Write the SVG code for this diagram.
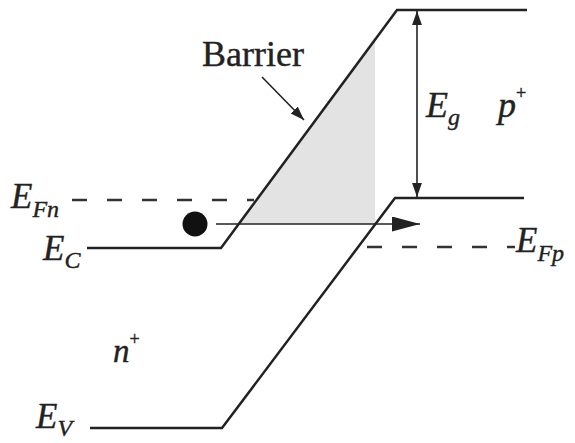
<svg xmlns="http://www.w3.org/2000/svg" width="575" height="443" viewBox="0 0 575 443">
<style>
.band{fill:none;stroke:#222;stroke-width:2.5;stroke-linejoin:miter}
.dash{fill:none;stroke:#333;stroke-width:2.5;stroke-dasharray:15 20}
.lbl{font-family:"Liberation Serif","Times New Roman",serif;fill:#222;stroke:#222;stroke-width:0.4}
.it{font-style:italic}
.thin{fill:none;stroke:#222;stroke-width:1.6}
</style>
<defs>
<marker id="ah" viewBox="0 0 10 10" refX="10" refY="5" markerWidth="14" markerHeight="14" markerUnits="userSpaceOnUse" orient="auto-start-reverse">
<path d="M0,1.5 L10,5 L0,8.5 Z" fill="#222"/>
</marker>
<marker id="big" viewBox="0 0 10 10" refX="10" refY="5" markerWidth="28" markerHeight="15" markerUnits="userSpaceOnUse" orient="auto" preserveAspectRatio="none">
<path d="M0,0 L10,5 L0,10 Z" fill="#222"/>
</marker>
</defs>
<g id="barrier-region">
<polygon points="238,224 375,37 375,224" fill="#e3e3e3"/>
</g>
<g id="conduction-band">
<polyline class="band" points="87,248 221,248 397,10 527,10"/>
</g>
<g id="valence-band">
<polyline class="band" points="90,428 222,428 395,198 524,198"/>
</g>
<g id="fermi-levels">
<line class="dash" x1="72" y1="200" x2="254" y2="200"/>
<line class="dash" x1="367" y1="247" x2="515" y2="247"/>
</g>
<g id="electron">
<circle cx="195" cy="224" r="12.5" fill="#111"/>
</g>
<g id="connectors">
<line class="thin" x1="216" y1="224" x2="420" y2="224" stroke-width="2.5" marker-end="url(#big)"/>
<line class="thin" x1="417" y1="11" x2="417" y2="197" marker-start="url(#ah)" marker-end="url(#ah)"/>
<line class="thin" x1="262" y1="77" x2="304" y2="120" marker-end="url(#ah)"/>
</g>
<g id="labels">
<text class="lbl" x="202" y="66" font-size="36">Barrier</text>
<text class="lbl it" x="426" y="117" font-size="36">E<tspan font-size="24" dy="8">g</tspan></text>
<text class="lbl it" x="498" y="117" font-size="36">p<tspan font-size="18" dy="-18" font-style="normal">+</tspan></text>
<text class="lbl it" x="11" y="208" font-size="35">E<tspan font-size="24" dy="9">Fn</tspan></text>
<text class="lbl it" x="43" y="260" font-size="35">E<tspan font-size="24" dy="8">C</tspan></text>
<text class="lbl it" x="516" y="252" font-size="35">E<tspan font-size="24" dy="9">Fp</tspan></text>
<text class="lbl it" x="36" y="428" font-size="35">E<tspan font-size="24" dy="8">V</tspan></text>
<text class="lbl it" x="113" y="362" font-size="33">n<tspan font-size="18" dy="-17" font-style="normal">+</tspan></text>
</g>
</svg>
